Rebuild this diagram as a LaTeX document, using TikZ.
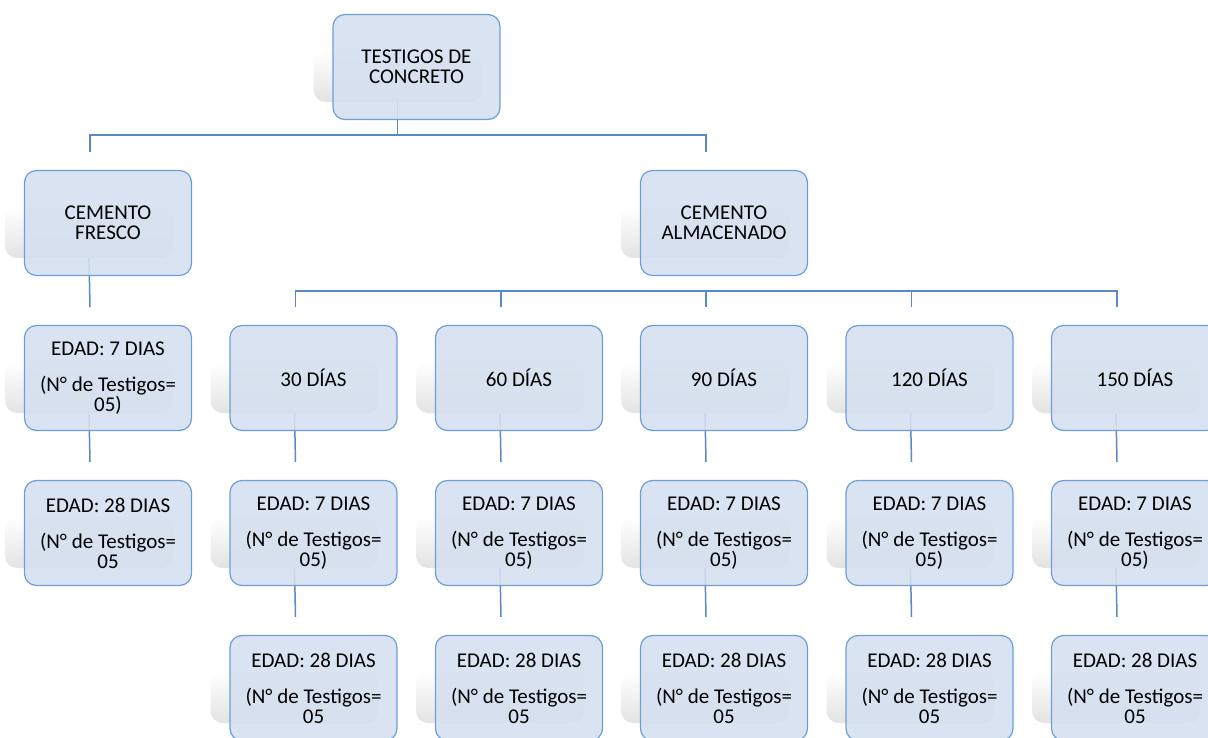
\documentclass[tikz,border=0pt]{standalone}
\usepackage{fontspec}
\setmainfont{Carlito}
\definecolor{boxfill}{HTML}{D5E0EF}
\definecolor{boxline}{HTML}{6A9FD8}
\definecolor{connc}{HTML}{5A8AC6}
\tikzset{
  shadowbox/.style={rectangle, rounded corners=12pt, minimum width=168pt, minimum height=51pt,
    inner sep=0pt, top color=white, bottom color=black!11, draw=none},
  mainbox/.style={rectangle, rounded corners=12pt, minimum width=167pt, minimum height=105pt,
    inner sep=0pt, fill=boxfill, fill opacity=0.9, text opacity=1, draw=boxline,
    line width=1.2pt, align=center, font=\fontsize{21}{20}\selectfont},
  connline/.style={draw=connc, line width=1.5pt}
}
% back layer: shadow + entry coordinate
\newcommand\orgback[3]{%
  \node[shadowbox] (s#1) at (#2-19, #3+62.5) {};
  \coordinate (e#1) at (#2-18, #3-18);
}
% front layer: the box itself
\newcommand\orgfront[4]{%
  \node[mainbox] (#1) at (#2, #3+53) {#4};
}
\begin{document}
\begin{tikzpicture}[x=1pt, y=-1pt]
\useasboundingbox (0,0) rectangle (1208,738);
% ---- shadows ----
\orgback{T}{416.5}{14}
\orgback{F}{108}{170}
\orgback{A}{724}{170}
\orgback{F7}{108}{325}
\orgback{F28}{108}{480}
\foreach \n/\cx in {D30/313.5, D60/519, D90/724, D120/929.5, D150/1135}{
  \orgback{\n}{\cx}{325}
  \orgback{\n a}{\cx}{480}
  \orgback{\n b}{\cx}{635}
}
% ---- connectors ----
\draw[connline] (sT.south) -- ++(0,33) -| (eF);
\draw[connline] (sT.south) ++(0,33) -| (eA);
\draw[connline] (sF.south) -- (eF7);
\draw[connline] (sF7.south) -- (eF28);
\foreach \n in {D30, D60, D90, D120, D150}{
  \draw[connline] (sA.south) ++(0,33) -| (e\n);
  \draw[connline] (s\n.south) -- (e\n a);
  \draw[connline] (s\n a.south) -- (e\n b);
}
% ---- boxes ----
\orgfront{T}{416.5}{14}{\fontsize{21}{24.5}\selectfont TESTIGOS DE\\CONCRETO}
\orgfront{F}{108}{170}{\fontsize{21}{24}\selectfont CEMENTO\\FRESCO}
\orgfront{A}{724}{170}{\fontsize{21}{24}\selectfont CEMENTO\\ALMACENADO}
\orgfront{F7}{108}{325}{\raisebox{-3pt}{}EDAD: 7 DIAS\\[16pt](N° de Testigos=\\05)}
\orgfront{F28}{108}{480}{EDAD: 28 DIAS\\[16pt](N° de Testigos=\\05}
\foreach \n/\cx/\d in {D30/313.5/30, D60/519/60, D90/724/90, D120/929.5/120, D150/1135/150}{
  \orgfront{\n}{\cx}{325}{\d{} DÍAS}
  \orgfront{\n a}{\cx}{480}{EDAD: 7 DIAS\\[16pt](N° de Testigos=\\05)}
  \orgfront{\n b}{\cx}{635}{EDAD: 28 DIAS\\[16pt](N° de Testigos=\\05}
}
\end{tikzpicture}
\end{document}
